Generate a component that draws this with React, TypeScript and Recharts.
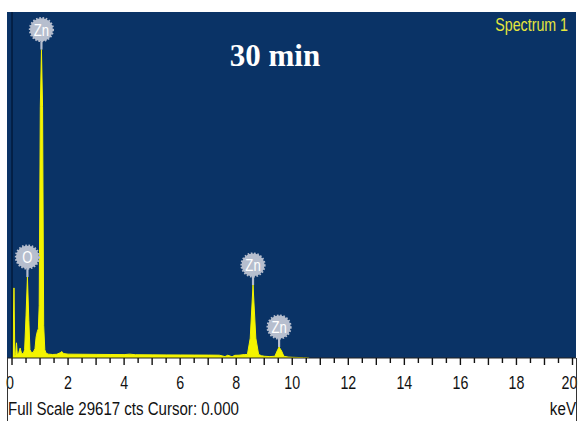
import React from 'react';
import {
  AreaChart,
  Area,
  XAxis,
  YAxis,
  CartesianGrid,
  ReferenceLine,
  ReferenceDot,
} from 'recharts';

// EDS spectrum, energy in keV against counts
const ENERGY_KEV = [
  0, 0.03, 0.07, 0.1, 0.13, 0.16, 0.19, 0.24, 0.29, 0.34, 0.4, 0.45, 0.5, 0.55, 0.6, 0.64,
  0.7, 0.76, 0.82, 0.86, 0.9, 0.94, 0.97, 1.01, 1.05, 1.09, 1.13, 1.17, 1.22, 1.3, 1.45,
  1.6, 1.72, 1.78, 1.84, 2, 2.5, 3, 3.5, 4, 4.2, 4.4, 5, 5.5, 6, 6.5, 7, 7.4, 7.6, 7.7,
  7.85, 7.95, 8.1, 8.3, 8.4, 8.5, 8.6, 8.7, 8.8, 8.9, 9, 9.2, 9.38, 9.46, 9.53, 9.62, 9.7,
  9.85, 10, 10.4, 10.6,
];
const COUNTS = [
  0, 150, 6000, 200, 300, 1300, 250, 450, 850, 400, 350, 700, 3600, 6930, 3200, 700,
  450, 500, 800, 1800, 2250, 2500, 4500, 21500, 26400, 21500, 2800, 700, 400, 330, 300,
  320, 450, 550, 380, 330, 320, 310, 300, 290, 330, 280, 270, 265, 260, 255, 250, 240, 120, 240,
  100, 230, 240, 300, 300, 1700, 6250, 1700, 300, 200, 150, 120, 150, 600, 940, 600, 150,
  80, 60, 30, 0,
];

// Identified peaks (element tag, line energy)
const PEAK_ELEMENTS = ['O', 'Zn', 'Zn', 'Zn'];
const PEAK_KEV = [0.55, 1.05, 8.6, 9.53];

const AXIS_TICKS = [
  0, 0.5, 1, 1.5, 2, 2.5, 3, 3.5, 4, 4.5, 5, 5.5, 6, 6.5, 7, 7.5, 8, 8.5, 9, 9.5, 10,
  10.5, 11, 11.5, 12, 12.5, 13, 13.5, 14, 14.5, 15, 15.5, 16, 16.5, 17, 17.5, 18, 18.5,
  19, 19.5, 20,
];

const FULL_SCALE = 29617;
const CURSOR_KEV = 0;
const TITLE = '30 min';
const SPECTRUM_NAME = 'Spectrum 1';

const W = 579;
const H = 421;
const PLOT_BG = '#0a3366';
const TRACE = '#f4f400';
const TAG = '#b6bece';
const SANS = "'Liberation Sans', Arial, sans-serif";

const spectrum = ENERGY_KEV.map((kev, i) => ({ kev, cts: COUNTS[i] }));

const peaks = PEAK_KEV.map((kev, i) => ({
  element: PEAK_ELEMENTS[i],
  kev,
  cts: COUNTS[ENERGY_KEV.indexOf(kev)],
}));

// tick marks every 0.5 keV, numbers on the even ones (narrowed Arial)
function KevTick({ x, y, payload }: { x?: number; y?: number; payload?: { value: number } }) {
  if (x == null || y == null || !payload) return null;
  const v = payload.value;
  const len = Number.isInteger(v) ? 7 : 5;
  const labelled = v % 2 === 0;
  let dx = 0;
  if (v === 0) dx = -2;
  if (v === 20) dx = -3;
  return (
    <g>
      <line x1={x} x2={x} y1={y} y2={y + len} stroke="#111" strokeWidth={1.4} />
      {labelled && (
        <text
          transform={`translate(${x + dx},${y + 31}) scale(0.75,1)`}
          textAnchor="middle"
          fontFamily={SANS}
          fontSize={19}
          fill="#111"
        >
          {v}
        </text>
      )}
    </g>
  );
}

// round grey tag on a stalk above the peak top
function PeakTag({ cx, cy, element }: { cx?: number; cy?: number; element: string }) {
  if (cx == null || cy == null) return null;
  return (
    <g>
      <line x1={cx} x2={cx} y1={cy - 10} y2={cy} stroke={TAG} strokeWidth={2.2} />
      <circle
        cx={cx}
        cy={cy - 20}
        r={11.4}
        fill={TAG}
        stroke={TAG}
        strokeWidth={2.4}
        strokeDasharray="1.6 1.6"
      />
      <text
        transform={`translate(${cx},${cy - 14}) scale(0.82,1)`}
        textAnchor="middle"
        fontFamily={SANS}
        fontSize={16}
        fill="#ffffff"
      >
        {element}
      </text>
    </g>
  );
}

export default function App() {
  return (
    <div
      style={{
        position: 'absolute',
        left: 0,
        top: 0,
        width: W,
        height: H,
        background: '#ffffff',
        overflow: 'hidden',
      }}
    >
      <AreaChart
        width={W}
        height={H}
        data={spectrum}
        margin={{ top: 12, right: 3, bottom: 0, left: 7 }}
      >
        <CartesianGrid horizontal={false} vertical={false} fill={PLOT_BG} stroke="none" />
        <XAxis
          dataKey="kev"
          type="number"
          domain={[-0.179, 20.125]}
          allowDataOverflow
          ticks={AXIS_TICKS}
          interval={0}
          height={63}
          tickSize={0}
          tickMargin={0}
          tickLine={false}
          axisLine={{ stroke: '#222', strokeWidth: 1 }}
          tick={<KevTick />}
        />
        <YAxis hide type="number" domain={[0, FULL_SCALE]} allowDataOverflow />
        <ReferenceLine x={CURSOR_KEV} stroke="#021a3c" strokeWidth={1.5} />
        <Area
          type="linear"
          dataKey="cts"
          stroke={TRACE}
          strokeWidth={1}
          fill={TRACE}
          fillOpacity={1}
          isAnimationActive={false}
        />
        {peaks.map((p, i) => (
          <ReferenceDot
            key={i}
            x={p.kev}
            y={p.cts}
            r={0}
            ifOverflow="visible"
            shape={(props: { cx?: number; cy?: number }) => (
              <PeakTag cx={props.cx} cy={props.cy} element={p.element} />
            )}
          />
        ))}
      </AreaChart>

      {/* captions and panel frame */}
      <svg
        width={W}
        height={H}
        style={{ position: 'absolute', left: 0, top: 0, pointerEvents: 'none' }}
      >
        <text
          x={275}
          y={66}
          textAnchor="middle"
          fontFamily="'Liberation Serif', 'Times New Roman', serif"
          fontWeight="bold"
          fontSize={31}
          fill="#ffffff"
        >
          {TITLE}
        </text>
        <text
          transform="translate(568,31) scale(0.79,1)"
          textAnchor="end"
          fontFamily={SANS}
          fontSize={18}
          fill="#e6e63c"
        >
          {SPECTRUM_NAME}
        </text>
        <text
          transform="translate(8,415) scale(0.814,1)"
          fontFamily={SANS}
          fontSize={18.5}
          fill="#111"
        >
          {`Full Scale ${FULL_SCALE} cts Cursor: ${CURSOR_KEV.toFixed(3)}`}
        </text>
        <text
          transform="translate(576,415) scale(0.82,1)"
          textAnchor="end"
          fontFamily={SANS}
          fontSize={18.5}
          fill="#111"
        >
          keV
        </text>
        <line x1={7.5} x2={7.5} y1={358} y2={H} stroke="#333" strokeWidth={1} />
        <line x1={576.5} x2={576.5} y1={358} y2={H} stroke="#333" strokeWidth={1} />
      </svg>
    </div>
  );
}
